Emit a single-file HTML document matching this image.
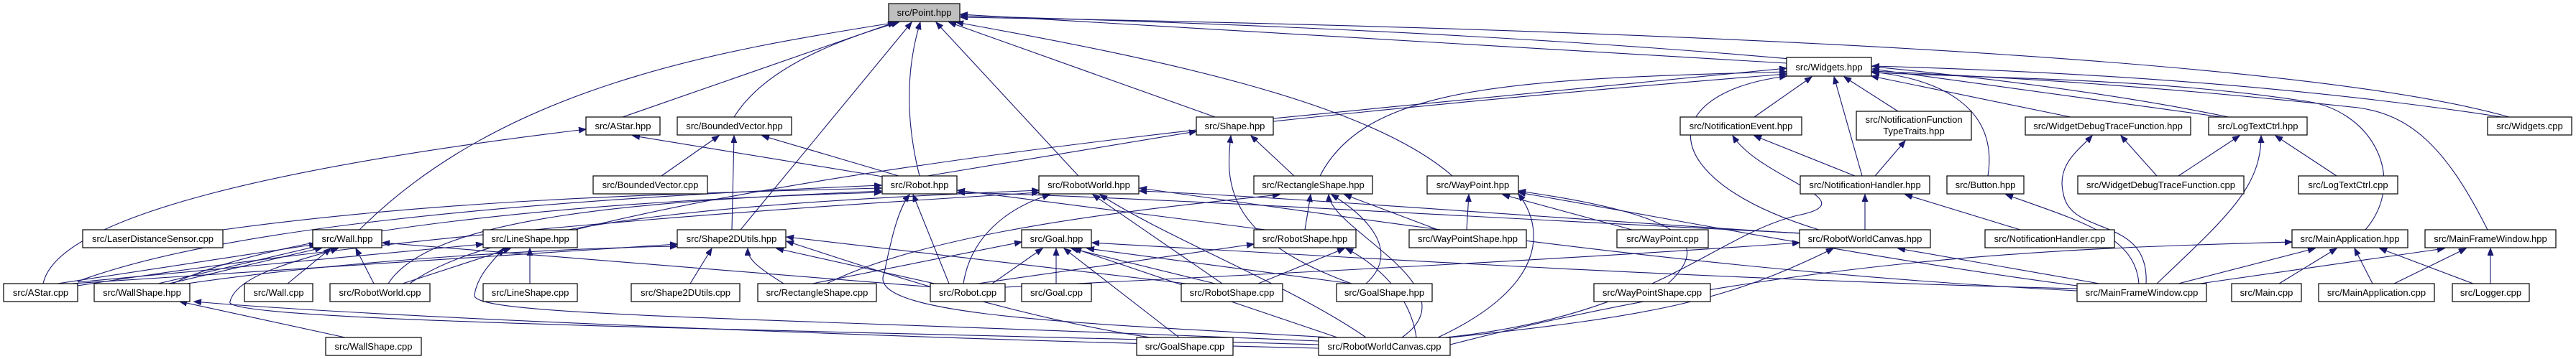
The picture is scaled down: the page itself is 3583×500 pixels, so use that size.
<!DOCTYPE html>
<html><head><meta charset="utf-8"><style>
html,body{margin:0;padding:0;background:#fff;}
svg{display:block;}
text{font-family:"Liberation Sans",sans-serif;font-size:13px;fill:#000;}
.e{fill:none;stroke:#191970;stroke-width:1.1;marker-end:url(#a);}
.n{fill:#fff;stroke:#000;stroke-width:1.2;}
</style></head><body>
<svg width="3583" height="500" viewBox="0 0 3583 500" xmlns="http://www.w3.org/2000/svg">
<defs><marker id="a" markerWidth="11" markerHeight="9" refX="10" refY="4" orient="auto" markerUnits="userSpaceOnUse"><path d="M0,0 L10,4 L0,8 z" fill="#191970" stroke="#191970"/></marker></defs>
<g>
<path class="e" d="M866,163 L1245,31"/>
<path class="e" d="M1021,163 C1060,100 1150,60 1250,31"/>
<path class="e" d="M500,320 C700,120 1000,70 1248,31"/>
<path class="e" d="M1030,320 L1268,31"/>
<path class="e" d="M1279,245 C1255,150 1265,80 1280,31"/>
<path class="e" d="M1500,245 L1302,31"/>
<path class="e" d="M1690,163 L1320,31"/>
<path class="e" d="M2020,245 C1900,140 1600,80 1330,31"/>
<path class="e" d="M2485,88 L1336,20"/>
<path class="e" d="M3100,163 C2700,80 2000,40 1336,22"/>
<path class="e" d="M3490,163 C3200,80 2300,40 1336,24"/>
<path class="e" d="M920,245 L1000,189"/>
<path class="e" d="M1018,320 L1021,189"/>
<path class="e" d="M1250,245 L1060,189"/>
<path class="e" d="M1240,248 L880,189"/>
<path class="e" d="M60,395 C80,300 400,230 815,180"/>
<path class="e" d="M1290,245 L1664,183"/>
<path class="e" d="M1800,245 L1740,189"/>
<path class="e" d="M1880,395 C1700,330 1705,250 1712,189"/>
<path class="e" d="M1771,165 L2485,95"/>
<path class="e" d="M1836,245 C1900,120 2100,110 2485,100"/>
<path class="e" d="M800,320 C1200,220 1900,150 2485,103"/>
<path class="e" d="M2440,163 L2520,107"/>
<path class="e" d="M2640,155 L2565,107"/>
<path class="e" d="M2590,245 L2551,107"/>
<path class="e" d="M2530,320 C2300,250 2300,130 2485,106"/>
<path class="e" d="M2765,245 C2780,150 2700,110 2603,100"/>
<path class="e" d="M2880,163 L2603,106"/>
<path class="e" d="M3090,163 L2604,96"/>
<path class="e" d="M3480,163 C3200,120 2900,100 2604,92"/>
<path class="e" d="M3290,320 C3350,250 3300,150 3200,140 C3000,110 2800,110 2604,101"/>
<path class="e" d="M3460,320 C3400,200 3350,160 3280,150 C3000,120 2800,108 2604,99"/>
<path class="e" d="M2580,245 L2440,189"/>
<path class="e" d="M2010,470 C2300,440 2380,330 2500,300 C2600,280 2450,250 2410,189"/>
<path class="e" d="M2608,245 L2650,196"/>
<path class="e" d="M2594,320 L2594,271"/>
<path class="e" d="M2810,320 L2650,271"/>
<path class="e" d="M2040,320 L2043,271"/>
<path class="e" d="M2270,320 L2090,271"/>
<path class="e" d="M2320,395 C2380,340 2350,300 2112,266"/>
<path class="e" d="M2000,470 C2150,400 2150,320 2112,270"/>
<path class="e" d="M1815,320 L1823,271"/>
<path class="e" d="M1900,395 C1950,350 1900,300 1852,271"/>
<path class="e" d="M2000,320 L1870,271"/>
<path class="e" d="M1950,470 C2050,400 1850,320 1848,271"/>
<path class="e" d="M1150,395 C1300,320 1600,290 1780,271"/>
<path class="e" d="M1750,395 L1870,346"/>
<path class="e" d="M1970,470 C1960,400 1900,360 1872,346"/>
<path class="e" d="M1360,395 L1744,340"/>
<path class="e" d="M1380,395 L1450,346"/>
<path class="e" d="M1469,395 L1469,346"/>
<path class="e" d="M1690,395 L1490,346"/>
<path class="e" d="M1640,470 L1480,346"/>
<path class="e" d="M1880,395 L1512,346"/>
<path class="e" d="M1860,470 L1494,346"/>
<path class="e" d="M100,395 L942,340"/>
<path class="e" d="M260,395 C500,360 800,345 942,343"/>
<path class="e" d="M960,395 L990,346"/>
<path class="e" d="M1090,395 C1050,370 1040,360 1040,346"/>
<path class="e" d="M1300,395 L1080,346"/>
<path class="e" d="M1650,395 L1094,330"/>
<path class="e" d="M1600,470 C1400,440 1200,370 1094,336"/>
<path class="e" d="M1130,395 L1421,337"/>
<path class="e" d="M80,395 L440,340"/>
<path class="e" d="M220,395 L445,342"/>
<path class="e" d="M235,395 L448,345"/>
<path class="e" d="M400,395 L460,346"/>
<path class="e" d="M520,395 L495,346"/>
<path class="e" d="M1300,400 L532,338"/>
<path class="e" d="M1834,480 C1200,460 300,450 320,420 C330,380 430,360 470,346"/>
<path class="e" d="M737,395 L737,346"/>
<path class="e" d="M560,395 L710,346"/>
<path class="e" d="M108,393 L672,340"/>
<path class="e" d="M1834,475 C1000,440 650,440 660,410 C665,380 690,360 700,346"/>
<path class="e" d="M480,470 L250,420"/>
<path class="e" d="M1834,485 C1200,470 500,440 270,420"/>
<path class="e" d="M310,320 C600,280 900,270 1226,262"/>
<path class="e" d="M108,392 C300,320 700,280 1226,258"/>
<path class="e" d="M540,395 C600,300 900,280 1226,266"/>
<path class="e" d="M1320,395 L1270,271"/>
<path class="e" d="M1760,320 L1332,265"/>
<path class="e" d="M240,395 C400,320 800,280 1226,268"/>
<path class="e" d="M1850,470 C1500,450 1200,440 1230,380 C1240,330 1250,290 1265,271"/>
<path class="e" d="M2510,325 C2000,300 1600,275 1332,268"/>
<path class="e" d="M570,395 C700,300 1100,280 1445,265"/>
<path class="e" d="M1340,395 C1350,330 1400,290 1460,271"/>
<path class="e" d="M1700,395 L1520,271"/>
<path class="e" d="M1900,470 C1800,400 1620,330 1530,271"/>
<path class="e" d="M108,398 C600,320 1100,290 1445,268"/>
<path class="e" d="M2889,405 C2400,380 2000,320 1585,262"/>
<path class="e" d="M2503,325 C2100,300 1800,275 1585,266"/>
<path class="e" d="M2017,470 C2300,440 2400,420 2550,346"/>
<path class="e" d="M2920,395 L2640,346"/>
<path class="e" d="M1398,400 C1800,380 2200,360 2503,338"/>
<path class="e" d="M2975,395 C2970,330 2900,310 2790,271"/>
<path class="e" d="M3000,245 L2950,189"/>
<path class="e" d="M2985,395 C2990,300 2880,330 2870,270 C2860,230 2890,210 2910,189"/>
<path class="e" d="M3030,245 L3115,189"/>
<path class="e" d="M3250,245 L3165,189"/>
<path class="e" d="M3000,395 C3100,300 3145,260 3145,189"/>
<path class="e" d="M3030,395 L3220,346"/>
<path class="e" d="M3170,395 L3250,346"/>
<path class="e" d="M3300,395 L3275,346"/>
<path class="e" d="M3440,395 L3310,346"/>
<path class="e" d="M2017,480 C2500,355 2900,345 3188,337"/>
<path class="e" d="M3060,395 L3400,346"/>
<path class="e" d="M3330,395 L3430,346"/>
<path class="e" d="M3464,395 L3464,346"/>
<path class="e" d="M2889,402 C2400,390 1900,360 1519,338"/>
<path class="e" d="M2889,398 C2600,360 2300,300 2112,268"/>
</g>
<g>
<rect x="1236" y="5" width="99" height="25" fill="#bfbfbf" stroke="#000" stroke-width="1.2"/><text x="1285.5" y="22" text-anchor="middle">src/Point.hpp</text>
<rect class="n" x="815" y="163" width="103" height="25"/><text x="866.5" y="180" text-anchor="middle">src/AStar.hpp</text>
<rect class="n" x="942" y="163" width="159" height="25"/><text x="1021.5" y="180" text-anchor="middle">src/BoundedVector.hpp</text>
<rect class="n" x="825" y="245" width="159" height="25"/><text x="904.5" y="262" text-anchor="middle">src/BoundedVector.cpp</text>
<rect class="n" x="115" y="320" width="195" height="25"/><text x="212.5" y="337" text-anchor="middle">src/LaserDistanceSensor.cpp</text>
<rect class="n" x="435" y="320" width="96" height="25"/><text x="483" y="337" text-anchor="middle">src/Wall.hpp</text>
<rect class="n" x="672" y="320" width="131" height="25"/><text x="737.5" y="337" text-anchor="middle">src/LineShape.hpp</text>
<rect class="n" x="5" y="395" width="103" height="25"/><text x="56.5" y="412" text-anchor="middle">src/AStar.cpp</text>
<rect class="n" x="131" y="395" width="133" height="25"/><text x="197.5" y="412" text-anchor="middle">src/WallShape.hpp</text>
<rect class="n" x="340" y="395" width="95" height="25"/><text x="387.5" y="412" text-anchor="middle">src/Wall.cpp</text>
<rect class="n" x="459" y="395" width="139" height="25"/><text x="528.5" y="412" text-anchor="middle">src/RobotWorld.cpp</text>
<rect class="n" x="672" y="395" width="131" height="25"/><text x="737.5" y="412" text-anchor="middle">src/LineShape.cpp</text>
<rect class="n" x="878" y="395" width="151" height="25"/><text x="953.5" y="412" text-anchor="middle">src/Shape2DUtils.cpp</text>
<rect class="n" x="453" y="470" width="133" height="25"/><text x="519.5" y="487" text-anchor="middle">src/WallShape.cpp</text>
<rect class="n" x="1227" y="245" width="104" height="25"/><text x="1279" y="262" text-anchor="middle">src/Robot.hpp</text>
<rect class="n" x="1445" y="245" width="139" height="25"/><text x="1514.5" y="262" text-anchor="middle">src/RobotWorld.hpp</text>
<rect class="n" x="1664" y="163" width="107" height="25"/><text x="1717.5" y="180" text-anchor="middle">src/Shape.hpp</text>
<rect class="n" x="1744" y="245" width="165" height="25"/><text x="1826.5" y="262" text-anchor="middle">src/RectangleShape.hpp</text>
<rect class="n" x="942" y="320" width="151" height="25"/><text x="1017.5" y="337" text-anchor="middle">src/Shape2DUtils.hpp</text>
<rect class="n" x="1421" y="320" width="97" height="25"/><text x="1469.5" y="337" text-anchor="middle">src/Goal.hpp</text>
<rect class="n" x="1744" y="320" width="142" height="25"/><text x="1815" y="337" text-anchor="middle">src/RobotShape.hpp</text>
<rect class="n" x="1054" y="395" width="165" height="25"/><text x="1136.5" y="412" text-anchor="middle">src/RectangleShape.cpp</text>
<rect class="n" x="1294" y="395" width="104" height="25"/><text x="1346" y="412" text-anchor="middle">src/Robot.cpp</text>
<rect class="n" x="1421" y="395" width="97" height="25"/><text x="1469.5" y="412" text-anchor="middle">src/Goal.cpp</text>
<rect class="n" x="1643" y="395" width="141" height="25"/><text x="1713.5" y="412" text-anchor="middle">src/RobotShape.cpp</text>
<rect class="n" x="1581" y="470" width="134" height="25"/><text x="1648" y="487" text-anchor="middle">src/GoalShape.cpp</text>
<rect class="n" x="2485" y="80" width="118" height="26"/><text x="2544" y="98" text-anchor="middle">src/Widgets.hpp</text>
<rect class="n" x="2337" y="163" width="169" height="25"/><text x="2421.5" y="180" text-anchor="middle">src/NotificationEvent.hpp</text>
<rect class="n" x="2582" y="155" width="160" height="40"/><text x="2662" y="171" text-anchor="middle">src/NotificationFunction</text><text x="2662" y="187" text-anchor="middle">TypeTraits.hpp</text>
<rect class="n" x="1985" y="245" width="127" height="25"/><text x="2048.5" y="262" text-anchor="middle">src/WayPoint.hpp</text>
<rect class="n" x="2504" y="245" width="180" height="25"/><text x="2594" y="262" text-anchor="middle">src/NotificationHandler.hpp</text>
<rect class="n" x="1960" y="320" width="163" height="25"/><text x="2041.5" y="337" text-anchor="middle">src/WayPointShape.hpp</text>
<rect class="n" x="2249" y="320" width="127" height="25"/><text x="2312.5" y="337" text-anchor="middle">src/WayPoint.cpp</text>
<rect class="n" x="2503" y="320" width="182" height="25"/><text x="2594" y="337" text-anchor="middle">src/RobotWorldCanvas.hpp</text>
<rect class="n" x="1859" y="395" width="133" height="25"/><text x="1925.5" y="412" text-anchor="middle">src/GoalShape.hpp</text>
<rect class="n" x="2217" y="395" width="162" height="25"/><text x="2298" y="412" text-anchor="middle">src/WayPointShape.cpp</text>
<rect class="n" x="1834" y="470" width="183" height="25"/><text x="1925.5" y="487" text-anchor="middle">src/RobotWorldCanvas.cpp</text>
<rect class="n" x="2817" y="163" width="230" height="25"/><text x="2932" y="180" text-anchor="middle">src/WidgetDebugTraceFunction.hpp</text>
<rect class="n" x="3072" y="163" width="137" height="25"/><text x="3140.5" y="180" text-anchor="middle">src/LogTextCtrl.hpp</text>
<rect class="n" x="3460" y="163" width="117" height="25"/><text x="3518.5" y="180" text-anchor="middle">src/Widgets.cpp</text>
<rect class="n" x="2708" y="245" width="107" height="25"/><text x="2761.5" y="262" text-anchor="middle">src/Button.hpp</text>
<rect class="n" x="2890" y="245" width="231" height="25"/><text x="3005.5" y="262" text-anchor="middle">src/WidgetDebugTraceFunction.cpp</text>
<rect class="n" x="3197" y="245" width="138" height="25"/><text x="3266" y="262" text-anchor="middle">src/LogTextCtrl.cpp</text>
<rect class="n" x="2761" y="320" width="180" height="25"/><text x="2851" y="337" text-anchor="middle">src/NotificationHandler.cpp</text>
<rect class="n" x="3188" y="320" width="161" height="25"/><text x="3268.5" y="337" text-anchor="middle">src/MainApplication.hpp</text>
<rect class="n" x="3373" y="320" width="182" height="25"/><text x="3464" y="337" text-anchor="middle">src/MainFrameWindow.hpp</text>
<rect class="n" x="2889" y="395" width="180" height="25"/><text x="2979" y="412" text-anchor="middle">src/MainFrameWindow.cpp</text>
<rect class="n" x="3104" y="395" width="97" height="25"/><text x="3152.5" y="412" text-anchor="middle">src/Main.cpp</text>
<rect class="n" x="3225" y="395" width="161" height="25"/><text x="3305.5" y="412" text-anchor="middle">src/MainApplication.cpp</text>
<rect class="n" x="3411" y="395" width="107" height="25"/><text x="3464.5" y="412" text-anchor="middle">src/Logger.cpp</text>
</g>
</svg>
</body></html>
